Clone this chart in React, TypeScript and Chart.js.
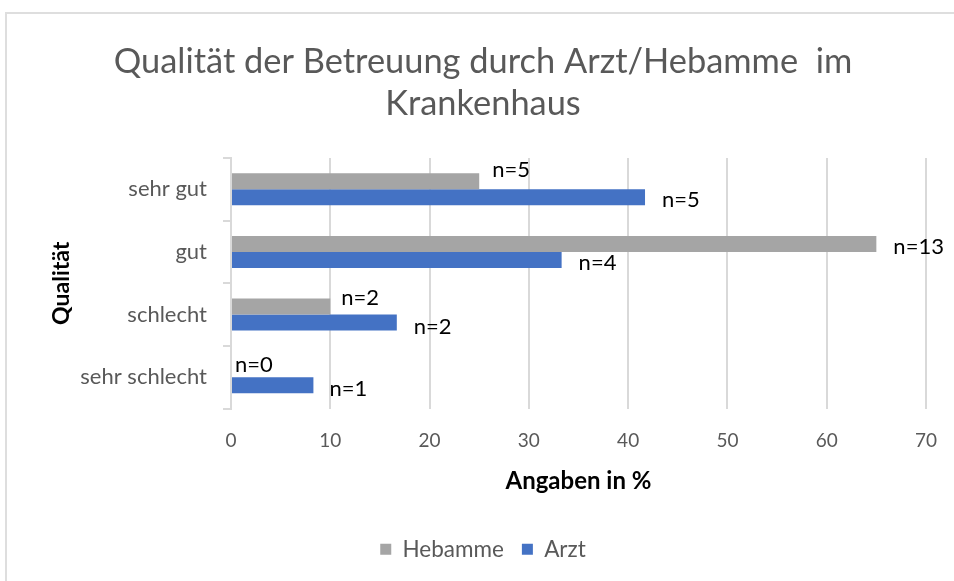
import React, { useEffect, useRef } from "react";
import { Chart, registerables } from "chart.js";

Chart.register(...registerables);

const TITLE_LINES = ["Qualität der Betreuung durch Arzt/Hebamme  im", "Krankenhaus"];
const CATEGORIES = ["sehr gut", "gut", "schlecht", "sehr schlecht"];
const SERIES_NAMES = ["Hebamme", "Arzt"];
const HEBAMME_PCT = [25, 65, 10, 0];
const ARZT_PCT = [41.7, 33.3, 16.7, 8.3];
const HEBAMME_N = [5, 13, 2, 0];
const ARZT_N = [5, 4, 2, 1];
const X_MIN = 0;
const X_MAX = 70;
const X_STEP = 10;
const X_TITLE = "Angaben in %";
const Y_TITLE = "Qualität";

// style: label nudges relative to bar end / bar centre (manually moved labels in the original)
const LABEL_NUDGE = [
  [[13, -11], [17, 3], [11, -9], [4, -4]],
  [[17, 3], [17, 3], [17, 4], [16, 4]],
];

const FONT = "Lato, 'Noto Sans', sans-serif";
const GREY_TEXT = "#595959";
const GRID = "#d9d9d9";

const nLabels = {
  id: "nLabels",
  afterDatasetsDraw(chart: any) {
    const ctx = chart.ctx;
    const counts = [HEBAMME_N, ARZT_N];
    ctx.save();
    ctx.font = `22px ${FONT}`;
    ctx.fillStyle = "#000000";
    ctx.textAlign = "left";
    ctx.textBaseline = "middle";
    chart.data.datasets.forEach((_ds: any, di: number) => {
      const meta = chart.getDatasetMeta(di);
      meta.data.forEach((el: any, i: number) => {
        const [dx, dy] = LABEL_NUDGE[di][i];
        ctx.fillText(`n=${counts[di][i]}`, el.x + dx, el.y + dy);
      });
    });
    ctx.restore();
  },
};

export default function App() {
  const ref = useRef<HTMLCanvasElement | null>(null);
  useEffect(() => {
    if (!ref.current) return;
    const chart = new Chart(ref.current, {
      type: "bar",
      data: {
        labels: CATEGORIES,
        datasets: [
          {
            label: SERIES_NAMES[0],
            data: HEBAMME_PCT,
            backgroundColor: "#A5A5A5",
            categoryPercentage: 0.512,
            barPercentage: 1,
          },
          {
            label: SERIES_NAMES[1],
            data: ARZT_PCT,
            backgroundColor: "#4472C4",
            categoryPercentage: 0.512,
            barPercentage: 1,
          },
        ],
      },
      options: {
        indexAxis: "y",
        animation: false,
        responsive: false,
        maintainAspectRatio: false,
        layout: { padding: { left: 40, right: 28, top: 0, bottom: 10.5 } },
        scales: {
          x: {
            min: X_MIN,
            max: X_MAX,
            ticks: { stepSize: X_STEP, color: GREY_TEXT, font: { family: FONT, size: 19 }, padding: 0 },
            grid: { color: GRID, lineWidth: 2, drawTicks: true, tickLength: 21, tickColor: "rgba(0,0,0,0)" },
            border: { display: false },
            title: {
              display: true,
              text: X_TITLE,
              color: "#000000",
              font: { family: FONT, size: 24, weight: "bold" },
              padding: { top: 0, bottom: 24.5 },
            },
            afterFit(scale: any) {
              scale.height = 111.5;
            },
          },
          y: {
            ticks: { color: GREY_TEXT, font: { family: FONT, size: 22 }, padding: 16 },
            grid: { color: GRID, lineWidth: 2, drawOnChartArea: false, drawTicks: true, tickLength: 8 },
            border: { display: true, color: GRID, width: 2 },
            title: {
              display: true,
              text: Y_TITLE,
              color: "#000000",
              font: { family: FONT, size: 23, weight: "bold" },
              padding: { top: 8.2, bottom: 0 },
            },
            afterFit(scale: any) {
              scale.width = 191;
            },
          },
        },
        plugins: {
          title: {
            display: true,
            text: TITLE_LINES,
            color: GREY_TEXT,
            font: { family: FONT, size: 34.4, weight: "normal", lineHeight: "42px" },
            padding: { top: 41, bottom: 33 },
          },
          legend: {
            position: "bottom",
            labels: {
              color: GREY_TEXT,
              font: { family: FONT, size: 22.5 },
              boxWidth: 11,
              boxHeight: 11,
              padding: 18,
            },
          },
          tooltip: { enabled: false },
        },
      },
      plugins: [nLabels],
    } as any);
    return () => chart.destroy();
  }, []);

  return (
    <div style={{ position: "absolute", left: 0, top: 0, width: 954, height: 581, background: "#ffffff", overflow: "hidden" }}>
      <div
        style={{
          position: "absolute",
          left: 5,
          top: 12,
          width: 960,
          height: 600,
          borderLeft: "2px solid #dedede",
          borderTop: "2px solid #dedede",
        }}
      />
      <canvas ref={ref} width={954} height={581} style={{ position: "absolute", left: 0, top: 0 }} />
    </div>
  );
}
